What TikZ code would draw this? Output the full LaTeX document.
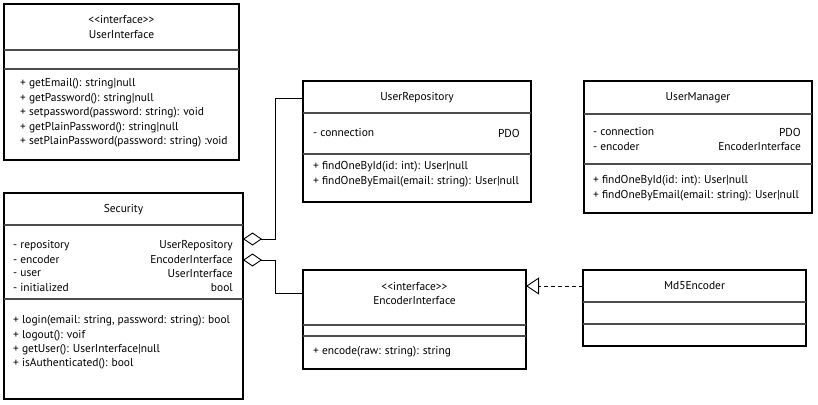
\documentclass[tikz,border=0pt]{standalone}
\usepackage{fontspec}
\setmainfont{PT Sans}
\usetikzlibrary{arrows.meta}

% stereotype brackets kept as plain angle signs
\newcommand{\stereo}[1]{<\kern0pt<#1>\kern0pt>}

\begin{document}
\begin{tikzpicture}[x=1bp, y=-1bp,
  classbox/.style={draw=black, line width=1.2bp, fill=white, inner sep=0, outer sep=0, anchor=north west},
  divider/.style={draw=black!70, line width=1.3bp},
  txt/.style={font=\fontsize{11.5}{13}\selectfont, inner sep=0, text=black},
  lt/.style={txt, anchor=west},
  rt/.style={txt, anchor=east},
  link/.style={draw=black, line width=0.9bp},
  aggr/.style={link, {Diamond[open, length=19bp, width=13bp, line width=0.9bp]}-},
  realize/.style={link, dashed, dash pattern=on 4bp off 3bp, -{Triangle[open, length=13bp, width=17bp, line width=0.9bp]}}
]
\useasboundingbox (0,0) rectangle (818,404);

% UserInterface
\node[classbox, minimum width=235bp, minimum height=156bp] (ui) at (4,4) {};
\draw[divider] (4,50) -- (239,50);
\draw[divider] (4,69) -- (239,69);
\node[txt] (uist) at (121.5,20) {\stereo{interface}};
\node[txt] (uiname) at (121.5,35) {UserInterface};
\node[lt] (uim1) at (20,84)  {+ getEmail(): string|null};
\node[lt] (uim2) at (20,99)  {+ getPassword(): string|null};
\node[lt] (uim3) at (20,113) {+ setpassword(password: string): void};
\node[lt] (uim4) at (20,128) {+ getPlainPassword(): string|null};
\node[lt] (uim5) at (20,142) {+ setPlainPassword(password: string) :void};

% Security
\node[classbox, minimum width=239bp, minimum height=206bp] (sec) at (4,193) {};
\draw[divider] (4,225) -- (243,225);
\draw[divider] (4,299) -- (243,299);
\node[txt] (secname) at (123.5,210) {Security};
\node[lt] (seca1) at (13,246) {- repository};
\node[lt] (seca2) at (13,260) {- encoder};
\node[lt] (seca3) at (13,274) {- user};
\node[lt] (seca4) at (13,288) {- initialized};
\node[rt] (sect1) at (233,246) {UserRepository};
\node[rt] (sect2) at (233,260) {EncoderInterface};
\node[rt] (sect3) at (233,274) {UserInterface};
\node[rt] (sect4) at (233,288) {bool};
\node[lt] (secm1) at (13,321) {+ login(email: string, password: string): bool};
\node[lt] (secm2) at (13,336) {+ logout(): voif};
\node[lt] (secm3) at (13,350) {+ getUser(): UserInterface|null};
\node[lt] (secm4) at (13,364) {+ isAuthenticated(): bool};

% UserRepository
\node[classbox, minimum width=228bp, minimum height=121bp] (repo) at (303,81) {};
\draw[divider] (303,113) -- (531,113);
\draw[divider] (303,154) -- (531,154);
\node[txt] (reponame) at (417,98) {UserRepository};
\node[lt] (repoa1) at (313,133) {- connection};
\node[rt] (repot1) at (520,133) {PDO};
\node[lt] (repom1) at (313,167) {+ findOneById(id: int): User|null};
\node[lt] (repom2) at (313,182) {+ findOneByEmail(email: string): User|null};

% UserManager
\node[classbox, minimum width=228bp, minimum height=132bp] (mgr) at (584,81) {};
\draw[divider] (584,114) -- (812,114);
\draw[divider] (584,164) -- (812,164);
\node[txt] (mgrname) at (698,98) {UserManager};
\node[lt] (mgra1) at (593,132) {- connection};
\node[lt] (mgra2) at (593,147) {- encoder};
\node[rt] (mgrt1) at (801,132) {PDO};
\node[rt] (mgrt2) at (801,147) {EncoderInterface};
\node[lt] (mgrm1) at (593,181) {+ findOneById(id: int): User|null};
\node[lt] (mgrm2) at (593,196) {+ findOneByEmail(email: string): User|null};

% EncoderInterface
\node[classbox, minimum width=223bp, minimum height=99bp] (enc) at (303,270) {};
\draw[divider] (303,325) -- (526,325);
\draw[divider] (303,336) -- (526,336);
\node[txt] (encst) at (414.5,287) {\stereo{interface}};
\node[txt] (encname) at (414.5,301) {EncoderInterface};
\node[lt] (encm1) at (313,352) {+ encode(raw: string): string};

% Md5Encoder
\node[classbox, minimum width=223bp, minimum height=76bp] (md5) at (583,270) {};
\draw[divider] (583,302) -- (806,302);
\draw[divider] (583,324) -- (806,324);
\node[txt] (md5name) at (694.5,286) {Md5Encoder};

% aggregations from Security
\coordinate (secrepo) at (sec.east |- 0,239);
\coordinate (secenc) at (sec.east |- 0,260);
\draw[aggr] (secrepo) -- (275,239) |- (repo.west |- reponame);
\draw[aggr] (secenc) -- (275,260) |- (enc.west |- 0,293);

% realization of EncoderInterface
\draw[realize] (md5.west |- md5name) -- (enc.east |- md5name);
\end{tikzpicture}
\end{document}
